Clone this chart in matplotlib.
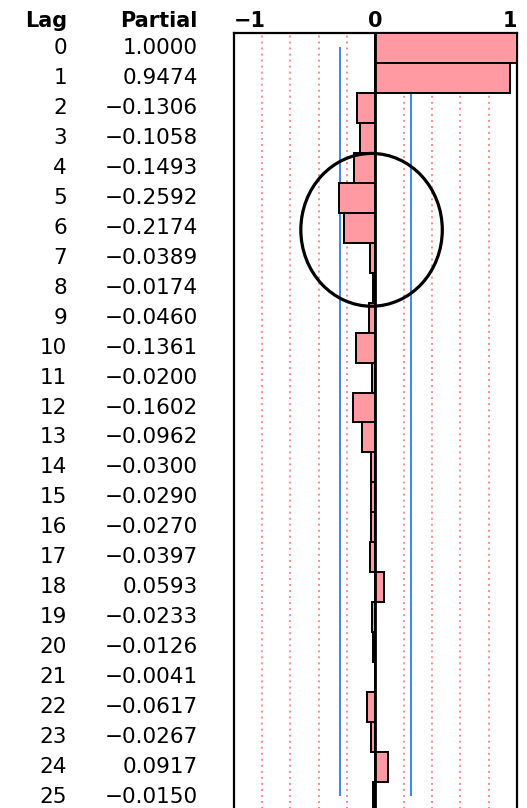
import matplotlib
matplotlib.use("Agg")
import matplotlib.pyplot as plt
from matplotlib.patches import Ellipse
from matplotlib.transforms import blended_transform_factory

lags = list(range(26))
partial = [1.0000, 0.9474, -0.1306, -0.1058, -0.1493, -0.2592, -0.2174, -0.0389,
           -0.0174, -0.0460, -0.1361, -0.0200, -0.1602, -0.0962, -0.0300, -0.0290,
           -0.0270, -0.0397, 0.0593, -0.0233, -0.0126, -0.0041, -0.0617, -0.0267,
           0.0917, -0.0150]
conf_limit = 0.252
grid_vals = [-0.8, -0.6, -0.4, -0.2, 0.2, 0.4, 0.6, 0.8]
tick_labels = ["\u22121", "0", "1"]

W, H = 527, 808
fig = plt.figure(figsize=(W / 100, H / 100), dpi=100)

ax_left, ax_right = 233.5, 517.0
ax_top = 33.0
row_h = 29.96
n = len(lags)
ax_bottom = ax_top + n * row_h
ax = fig.add_axes([ax_left / W, 1 - ax_bottom / H, (ax_right - ax_left) / W, (ax_bottom - ax_top) / H])
ax.set_xlim(-1, 1)
ax.set_ylim(n - 0.5, -0.5)
ax.set_xticks([])
ax.set_yticks([])
for s in ["top", "left", "right"]:
    ax.spines[s].set_linewidth(1.6)
    ax.spines[s].set_color("black")
ax.spines["bottom"].set_visible(False)

for g in grid_vals:
    ax.axvline(g, color="#ff8c8c", linestyle=(0, (1, 2.1)), linewidth=1.4, zorder=1)

for c in (-conf_limit, conf_limit):
    ax.plot([c, c], [0.0, n - 1 - 0.05], color="#3d85f0", linewidth=1.4, zorder=2)

ax.barh(lags, partial, height=1.0, color="#ff9aa2", edgecolor="black", linewidth=1.4, zorder=3)
ax.axvline(0, color="black", linewidth=2.0, zorder=4)

ell = Ellipse((-0.026, 6.07), width=0.998, height=5.1, fill=False, edgecolor="black",
              linewidth=2.3, zorder=5, clip_on=False)
ax.add_patch(ell)

fs = 15.5
hfs = 15
trans = blended_transform_factory(fig.transFigure, ax.transData)
for lag, val in zip(lags, partial):
    ax.text(67 / W, lag, str(lag), transform=trans, ha="right", va="center",
            fontsize=fs, family="DejaVu Sans", clip_on=False)
    s = f"{val:.4f}".replace("-", "\u2212")
    ax.text(198 / W, lag, s, transform=trans, ha="right", va="center",
            fontsize=fs, family="DejaVu Sans", clip_on=False)

hy = 1 - 21 / H
fig.text(67 / W, hy, "Lag", ha="right", va="center", fontsize=hfs, fontweight="bold")
fig.text(198 / W, hy, "Partial", ha="right", va="center", fontsize=hfs, fontweight="bold")
fig.text(ax_left / W, hy, tick_labels[0], ha="left", va="center", fontsize=hfs, fontweight="bold")
fig.text(375 / W, hy, tick_labels[1], ha="center", va="center", fontsize=hfs, fontweight="bold")
fig.text(ax_right / W, hy, tick_labels[2], ha="right", va="center", fontsize=hfs, fontweight="bold")

fig.savefig("out.png", dpi=100)
